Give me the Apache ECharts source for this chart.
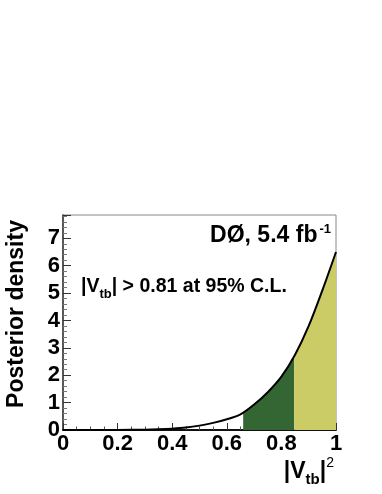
<!DOCTYPE html>
<html>
<head>
<meta charset="utf-8">
<script src="https://cdn.jsdelivr.net/npm/echarts@6/dist/echarts.min.js"></script>
<style>
  html, body { margin: 0; padding: 0; background: #fff; }
  #chart { width: 382px; height: 494px; }
</style>
</head>
<body>
<div id="chart"></div>
<script>
// posterior density curve
var vtb2 = [0, 0.1, 0.2, 0.3, 0.35, 0.4, 0.45, 0.5, 0.55, 0.6, 0.65, 0.7, 0.75, 0.8, 0.85, 0.9, 0.95, 1.0];
var density = [0, 0, 0.003, 0.012, 0.025, 0.05, 0.09, 0.16, 0.26, 0.39, 0.57, 0.93, 1.38, 1.95, 2.75, 3.8, 5.1, 6.5];

// shaded bands under the curve
var darkX = [0.66, 0.7, 0.75, 0.8, 0.847];
var darkY = [0.63, 0.93, 1.38, 1.95, 2.7];
var lightX = [0.847, 0.85, 0.9, 0.95, 1.0];
var lightY = [2.7, 2.75, 3.8, 5.1, 6.5];

var yTicks = [0, 1, 2, 3, 4, 5, 6, 7];

function pairs(xs, ys) {
  return xs.map(function (x, i) { return [x, ys[i]]; });
}

var FONT = '"Liberation Sans", Arial, Helvetica, sans-serif';

var chart = echarts.init(document.getElementById('chart'), null, { renderer: 'canvas' });

var option = {
  backgroundColor: '#fff',
  animation: false,
  grid: {
    left: 63, right: 46, top: 215, bottom: 64,
    show: true, borderColor: '#888', borderWidth: 1, backgroundColor: 'transparent'
  },
  xAxis: {
    type: 'value', min: 0, max: 1, interval: 0.2,
    axisLine: { show: true, onZero: false, lineStyle: { color: '#111', width: 2 } },
    axisTick: { show: true, inside: true, length: 7, lineStyle: { color: '#333' } },
    minorTick: { show: true, splitNumber: 4, length: 3.5, lineStyle: { color: '#555' } },
    splitLine: { show: false },
    minorSplitLine: { show: false },
    axisLabel: {
      color: '#000', fontFamily: FONT, fontWeight: 'bold', fontSize: 22, margin: 3,
      formatter: function (v) { return String(+v.toFixed(1)); }
    },
    name: '{b||V}{s|tb}{b||}{p|2}',
    nameLocation: 'end',
    nameGap: 0,
    nameTextStyle: {
      align: 'right', verticalAlign: 'top', padding: [26, 2, 0, 0],
      rich: {
        b: { fontFamily: FONT, fontWeight: 'bold', fontSize: 23, color: '#000' },
        s: { fontFamily: FONT, fontWeight: 'bold', fontSize: 15, color: '#000', verticalAlign: 'bottom', padding: [16, 0, 0, 0] },
        p: { fontFamily: FONT, fontSize: 14, color: '#000', verticalAlign: 'top', padding: [0, 0, 12, 0] }
      }
    }
  },
  yAxis: {
    type: 'value', min: 0, max: 7.85, interval: 1,
    axisLine: { show: true, onZero: false, lineStyle: { color: '#333', width: 1.5 } },
    axisTick: { show: true, inside: true, length: 8, lineStyle: { color: '#333' } },
    minorTick: { show: true, splitNumber: 5, length: 4, lineStyle: { color: '#777' } },
    splitLine: { show: false },
    minorSplitLine: { show: false },
    axisLabel: {
      color: '#000', fontFamily: FONT, fontWeight: 'bold', fontSize: 22, margin: 3,
      showMaxLabel: false,
      formatter: function (v) { return yTicks.indexOf(v) >= 0 ? String(v) : ''; }
    }
  },
  series: [
    {
      name: 'dark band', type: 'line', data: pairs(darkX, darkY),
      smooth: 0.3, showSymbol: false, silent: true,
      lineStyle: { width: 0 },
      areaStyle: { color: '#336633', opacity: 1 },
      z: 2
    },
    {
      name: 'light band', type: 'line', data: pairs(lightX, lightY),
      smooth: 0.3, showSymbol: false, silent: true,
      lineStyle: { width: 0 },
      areaStyle: { color: '#cccc66', opacity: 1 },
      z: 2
    },
    {
      name: 'posterior', type: 'line', data: pairs(vtb2, density),
      smooth: 0.3, showSymbol: false, silent: true,
      lineStyle: { color: '#000', width: 2 },
      z: 5
    }
  ],
  graphic: [
    {
      // y axis title, ROOT style
      type: 'text', x: 17, y: 314, rotation: Math.PI / 2, z: 10,
      style: {
        text: 'Posterior density', align: 'center', verticalAlign: 'middle',
        fontFamily: FONT, fontWeight: 'bold', fontSize: 23, fill: '#000'
      }
    },
    {
      type: 'text', right: 51, top: 223, z: 10,
      style: {
        text: '{t|DØ, 5.4 fb}{u|-1}',
        rich: {
          t: { fontFamily: FONT, fontWeight: 'bold', fontSize: 23, fill: '#000' },
          u: { fontFamily: FONT, fontWeight: 'bold', fontSize: 13, fill: '#000', verticalAlign: 'top', padding: [0, 0, 13, 2] }
        }
      }
    },
    {
      type: 'text', left: 81, top: 277, z: 10,
      style: {
        text: '{t||V}{s|tb}{t|| > 0.81 at 95% C.L.}',
        rich: {
          t: { fontFamily: FONT, fontWeight: 'bold', fontSize: 19.5, fill: '#000' },
          s: { fontFamily: FONT, fontWeight: 'bold', fontSize: 13, fill: '#000', verticalAlign: 'bottom', padding: [14, 0, 0, 0] }
        }
      }
    }
  ]
};

chart.setOption(option);
</script>
</body>
</html>
